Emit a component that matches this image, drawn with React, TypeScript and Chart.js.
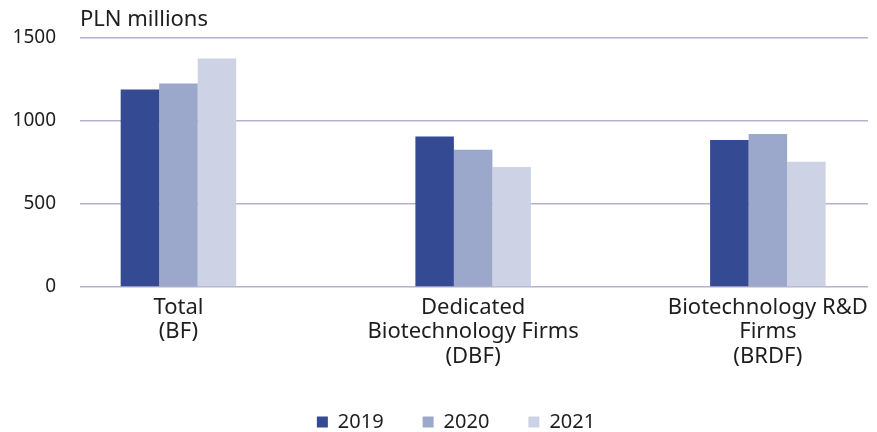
import React, { useEffect, useRef } from "react";
import { Chart, registerables } from "chart.js";

Chart.register(...registerables);

const categories: string[][] = [
  ["Total", "(BF)"],
  ["Dedicated", "Biotechnology Firms", "(DBF)"],
  ["Biotechnology R&D", "Firms", "(BRDF)"],
];
const seriesNames = ["2019", "2020", "2021"];
const values2019 = [1187, 905, 884];
const values2020 = [1223, 825, 920];
const values2021 = [1373, 721, 753];
const yTicks = [0, 500, 1000, 1500];
const colors = ["#344b93", "#9ba8cb", "#cdd2e5"];

const FONT = "'Noto Sans', sans-serif";
const TEXT = "#1e1e1e";

export default function App() {
  const ref = useRef<HTMLCanvasElement | null>(null);
  useEffect(() => {
    if (!ref.current) return;
    const series = [values2019, values2020, values2021];
    const chart = new Chart(ref.current, {
      type: "bar",
      data: {
        datasets: series.map((vals, si) => ({
          label: seriesNames[si],
          data: vals.map((v, i) => ({ x: i, y: v })),
          backgroundColor: colors[si],
          borderWidth: 0,
          barPercentage: 1,
          categoryPercentage: 0.392,
        })),
      },
      options: {
        responsive: false,
        animation: false,
        layout: { padding: { left: 0, right: -35, top: 0, bottom: 0 } },
        plugins: {
          tooltip: { enabled: false },
          title: {
            display: true,
            text: "PLN millions",
            align: "start",
            fullSize: false,
            color: TEXT,
            font: { family: FONT, size: 22, weight: "normal", lineHeight: 1.2 },
            padding: { top: 7, bottom: 4 },
          },
          legend: {
            position: "bottom",
            maxHeight: 59,
            labels: {
              boxWidth: 11,
              boxHeight: 11,
              padding: 39,
              color: TEXT,
              font: { family: FONT, size: 20 },
            },
          },
        },
        scales: {
          x: {
            type: "linear",
            offset: false,
            bounds: "data",
            min: -0.334,
            max: 2.34,
            afterBuildTicks: (s: any) => {
              s.ticks = categories.map((_, i) => ({ value: i }));
            },
            afterFit: (s: any) => {
              s.height = 86;
            },
            grid: { display: false, drawTicks: false, tickLength: 0 },
            border: { display: false },
            ticks: {
              autoSkip: false,
              maxRotation: 0,
              minRotation: 0,
              padding: 8,
              color: TEXT,
              font: { family: FONT, size: 22, lineHeight: 1.12 },
              callback: (v: any) => categories[Math.round(Number(v))] as any,
            },
          },
          y: {
            min: 0,
            max: 1500,
            afterBuildTicks: (s: any) => {
              s.ticks = yTicks.map((v) => ({ value: v }));
            },
            afterFit: (s: any) => {
              s.width = 80;
            },
            grid: {
              color: "#b5b2cf",
              lineWidth: 1.5,
              drawTicks: false,
              tickLength: 0,
            },
            border: { display: false },
            ticks: {
              padding: 24,
              color: TEXT,
              font: { family: FONT, size: 19 },
              callback: (v: any) => String(v),
            },
          },
        },
      },
    });
    return () => chart.destroy();
  }, []);
  return (
    <div style={{ position: "fixed", left: 0, top: 0, width: 877, height: 432, background: "#fff" }}>
      <canvas ref={ref} width={877} height={432} style={{ display: "block" }} />
    </div>
  );
}
